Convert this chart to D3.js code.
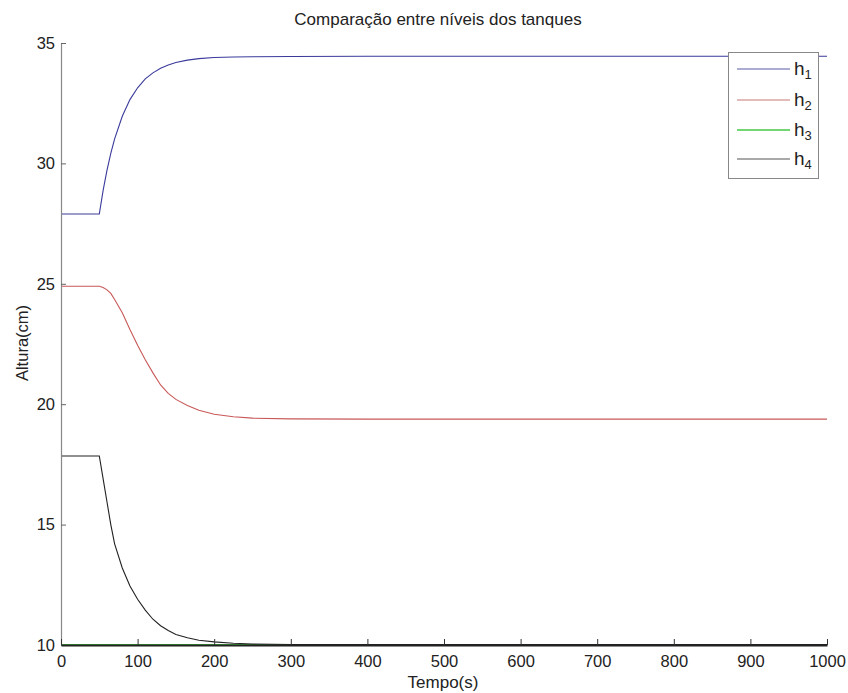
<!DOCTYPE html>
<html><head><meta charset="utf-8">
<script src="https://cdn.jsdelivr.net/npm/d3@7"></script>
<style>body{margin:0;background:#fff}svg{display:block;font-family:"Liberation Sans",Arial,sans-serif}</style>
</head><body><svg id="c" width="848" height="693"></svg>
<script>
const title = "Comparação entre níveis dos tanques";
const xLabel = "Tempo(s)";
const yLabel = "Altura(cm)";
const seriesNames = ["h1","h2","h3","h4"];
const xTicks = [0,100,200,300,400,500,600,700,800,900,1000];
const yTicks = [10,15,20,25,30,35];
const time = [0,50,55,60,65,70,80,90,100,110,120,130,140,150,165,180,200,225,250,300,400,1000];
const h1 = [27.9,27.9,28.88,29.71,30.42,31.02,31.96,32.65,33.14,33.51,33.76,33.95,34.09,34.19,34.29,34.35,34.40,34.42,34.43,34.44,34.45,34.45];
const h2 = [24.9,24.9,24.85,24.75,24.6,24.35,23.8,23.1,22.45,21.85,21.3,20.8,20.45,20.2,19.95,19.75,19.58,19.48,19.42,19.39,19.38,19.38];
const h3 = [10.02,10.02,10.02,10.02,10.02,10.02,10.02,10.02,10.02,10.02,10.02,10.02,10.02,10.02,10.02,10.02,10.02,10.02,10.02,10.02,10.02,10.02];
const h4 = [17.85,17.85,16.9,15.95,15.0,14.2,13.2,12.45,11.9,11.45,11.07,10.8,10.6,10.44,10.3,10.2,10.13,10.07,10.04,10.02,10.02,10.02];
const colors = ["#3a3a9c","#c85858","#3cbf3c","#222222"];
const legendColors = ["#5a5aa8","#c87878","#44c844","#555555"];

const svg = d3.select("#c");
const x = d3.scaleLinear().domain([0,1000]).range([61,827]);
const y = d3.scaleLinear().domain([10,35]).range([645,43]);

const series = [h1,h2,h3,h4];
const line = d3.line().x((d,i)=>x(time[i])).y(d=>y(d));
series.forEach((s,k)=>{
  svg.append("path").datum(s).attr("d",line).attr("fill","none")
    .attr("stroke",colors[k]).attr("stroke-width",1.1);
});

const FONT = "Liberation Sans, Arial, sans-serif";
// axes
const ya = svg.append("g").attr("transform","translate(61,0)")
  .call(d3.axisLeft(y).tickValues(yTicks).tickSizeInner(-5).tickSizeOuter(0).tickPadding(6).tickFormat(d3.format("d")));
ya.select(".domain").attr("stroke","#888").attr("stroke-width",1.2);
ya.selectAll(".tick line").attr("stroke","#666");
ya.selectAll("text").attr("font-size",16.5).attr("fill","#222").attr("font-family",FONT);

const xa = svg.append("g").attr("transform","translate(0,645)")
  .call(d3.axisBottom(x).tickValues(xTicks).tickSizeInner(-6).tickSizeOuter(0).tickPadding(10).tickFormat(d3.format("d")));
xa.select(".domain").attr("stroke","#222").attr("stroke-width",2);
xa.selectAll(".tick line").attr("stroke","#333");
xa.selectAll("text").attr("font-size",16.5).attr("fill","#222").attr("font-family",FONT);

// title & labels
svg.append("text").attr("x",438).attr("y",25).attr("text-anchor","middle")
  .attr("font-size",17).attr("fill","#222").text(title);
svg.append("text").attr("x",443).attr("y",688).attr("text-anchor","middle")
  .attr("font-size",17).attr("fill","#222").text(xLabel);
svg.append("text").attr("transform","translate(28,343) rotate(-90)").attr("text-anchor","middle")
  .attr("font-size",16.5).attr("fill","#222").text(yLabel);

// legend
const lg = svg.append("g");
lg.append("rect").attr("x",728.5).attr("y",52.5).attr("width",90).attr("height",126)
  .attr("fill","#fff").attr("stroke","#888").attr("stroke-width",1);
const ly = [69,100,130,159];
seriesNames.forEach((n,k)=>{
  lg.append("line").attr("x1",737).attr("x2",790).attr("y1",ly[k]).attr("y2",ly[k])
    .attr("stroke",legendColors[k]).attr("stroke-width",k===2?1.6:1.1);
  const t = lg.append("text").attr("x",794).attr("y",ly[k]+6).attr("font-size",19).attr("fill","#222");
  t.append("tspan").text(n.slice(0,1));
  t.append("tspan").attr("dy",4).attr("font-size",13).text(n.slice(1));
});
</script></body></html>
